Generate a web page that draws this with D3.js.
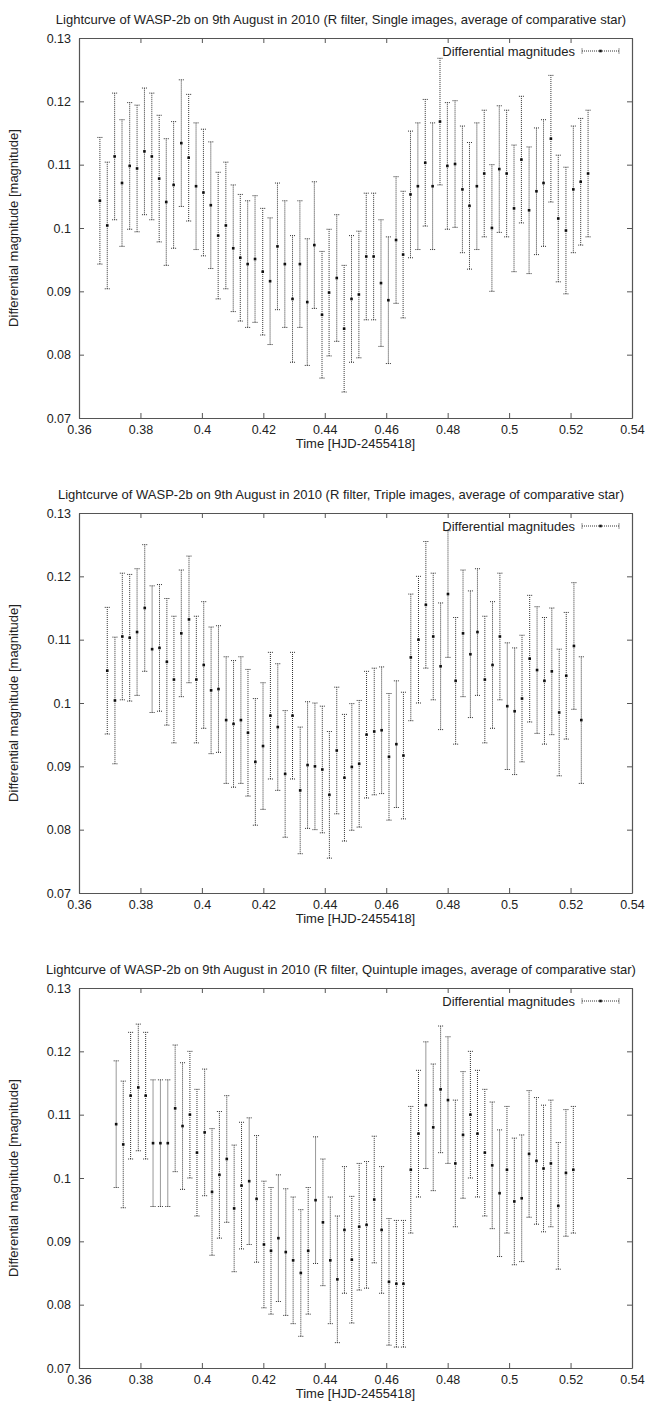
<!DOCTYPE html>
<html>
<head>
<meta charset="utf-8">
<script src="https://cdn.jsdelivr.net/npm/d3@7"></script>
<style>
  body { margin: 0; background: #fff; }
  svg { display: block; font-family: "Liberation Sans", Arial, sans-serif; }
</style>
</head>
<body>
<div class="lightcurves"></div>
<script>
const timeSingle = [0.3668,0.3692,0.3716,0.3740,0.3765,0.3789,0.3813,0.3837,0.3861,0.3884,0.3908,0.3933,0.3957,0.3981,0.4005,0.4029,0.4053,0.4078,0.4102,0.4125,0.4149,0.4173,0.4198,0.4222,0.4246,0.4270,0.4295,0.4319,0.4343,0.4366,0.4391,0.4414,0.4439,0.4463,0.4487,0.4511,0.4535,0.4559,0.4583,0.4607,0.4632,0.4655,0.4679,0.4703,0.4727,0.4751,0.4775,0.4799,0.4824,0.4848,0.4871,0.4895,0.4919,0.4944,0.4968,0.4992,0.5016,0.5040,0.5065,0.5089,0.5112,0.5136,0.5160,0.5185,0.5209,0.5233,0.5257];
const magSingle = [0.1043,0.1004,0.1113,0.1071,0.1098,0.1094,0.1121,0.1113,0.1078,0.1041,0.1068,0.1134,0.1111,0.1066,0.1056,0.1036,0.0988,0.1004,0.0968,0.0953,0.0943,0.0951,0.0931,0.0916,0.0971,0.0943,0.0888,0.0943,0.0883,0.0973,0.0863,0.0898,0.0921,0.0841,0.0888,0.0895,0.0955,0.0955,0.0913,0.0886,0.0981,0.0958,0.1053,0.1066,0.1103,0.1066,0.1168,0.1098,0.1101,0.1061,0.1035,0.1066,0.1086,0.1000,0.1093,0.1086,0.1031,0.1108,0.1028,0.1058,0.1071,0.1141,0.1015,0.0996,0.1061,0.1073,0.1086];

const timeTriple = [0.3692,0.3717,0.3741,0.3765,0.3789,0.3814,0.3838,0.3862,0.3886,0.3909,0.3933,0.3958,0.3982,0.4006,0.4030,0.4054,0.4079,0.4103,0.4127,0.4150,0.4174,0.4199,0.4223,0.4247,0.4271,0.4295,0.4320,0.4344,0.4368,0.4392,0.4415,0.4439,0.4464,0.4488,0.4512,0.4536,0.4561,0.4585,0.4609,0.4633,0.4656,0.4680,0.4705,0.4729,0.4753,0.4777,0.4801,0.4826,0.4850,0.4874,0.4897,0.4921,0.4946,0.4970,0.4994,0.5018,0.5042,0.5067,0.5091,0.5115,0.5139,0.5163,0.5186,0.5211,0.5235];
const magTriple = [0.1051,0.1004,0.1105,0.1103,0.1112,0.1150,0.1085,0.1087,0.1065,0.1037,0.1110,0.1132,0.1037,0.1060,0.1020,0.1022,0.0973,0.0967,0.0973,0.0953,0.0907,0.0932,0.0980,0.0962,0.0888,0.0980,0.0862,0.0902,0.0900,0.0895,0.0855,0.0925,0.0882,0.0899,0.0904,0.0950,0.0955,0.0957,0.0915,0.0935,0.0917,0.1072,0.1100,0.1155,0.1105,0.1058,0.1172,0.1035,0.1110,0.1077,0.1112,0.1037,0.1060,0.1105,0.0995,0.0987,0.1007,0.1070,0.1052,0.1035,0.1050,0.0985,0.1043,0.1090,0.0973];

const timeQuint = [0.3721,0.3744,0.3768,0.3793,0.3817,0.3841,0.3865,0.3889,0.3913,0.3937,0.3961,0.3984,0.4009,0.4033,0.4057,0.4081,0.4105,0.4129,0.4154,0.4178,0.4202,0.4225,0.4249,0.4273,0.4297,0.4322,0.4346,0.4370,0.4394,0.4418,0.4441,0.4464,0.4488,0.4512,0.4536,0.4561,0.4585,0.4609,0.4633,0.4656,0.4680,0.4705,0.4729,0.4753,0.4777,0.4801,0.4825,0.4850,0.4874,0.4897,0.4921,0.4945,0.4969,0.4993,0.5017,0.5041,0.5065,0.5089,0.5112,0.5136,0.5160,0.5185,0.5209];
const magQuint = [0.1085,0.1053,0.1130,0.1143,0.1130,0.1055,0.1055,0.1055,0.1110,0.1082,0.1100,0.1040,0.1072,0.0978,0.1005,0.1030,0.0952,0.0988,0.0995,0.0967,0.0895,0.0885,0.0905,0.0883,0.0870,0.0850,0.0885,0.0965,0.0930,0.0870,0.0840,0.0918,0.0871,0.0923,0.0926,0.0966,0.0918,0.0836,0.0833,0.0833,0.1013,0.1070,0.1115,0.1080,0.1140,0.1123,0.1023,0.1068,0.1100,0.1070,0.1040,0.1020,0.0976,0.1013,0.0963,0.0968,0.1038,0.1027,0.1015,0.1023,0.0956,0.1008,0.1013];

// every point carries the same error bar
const magError = 0.01;

const panelLabels = ["Single", "Triple", "Quintuple"];
const xTickValues = [0.36, 0.38, 0.40, 0.42, 0.44, 0.46, 0.48, 0.50, 0.52, 0.54];
const yTickValues = [0.07, 0.08, 0.09, 0.10, 0.11, 0.12, 0.13];

const panels = [
    { label: panelLabels[0], t: timeSingle, m: magSingle },
    { label: panelLabels[1], t: timeTriple, m: magTriple },
    { label: panelLabels[2], t: timeQuint, m: magQuint }
];

const W = 645, H = 1403;
const plotLeft = 79, plotRight = 632, plotH = 380;
const panelTops = [38, 513, 988];
const frameColor = "#555";
const fmt = d => String(+d.toFixed(2));

const svg = d3.select(".lightcurves").append("svg")
    .attr("width", W)
    .attr("height", H);

const x = d3.scaleLinear().domain([0.36, 0.54]).range([plotLeft, plotRight]);

panels.forEach((p, i) => {
    const top = panelTops[i];
    const y = d3.scaleLinear().domain([0.07, 0.13]).range([top + plotH, top]);
    const g = svg.append("g");

    // title above plot
    g.append("text")
        .attr("x", 341)
        .attr("y", top - 14)
        .attr("text-anchor", "middle")
        .attr("font-size", 13)
        .attr("fill", "#222")
        .text(`Lightcurve of WASP-2b on 9th August in 2010 (R filter, ${p.label} images, average of comparative star)`);

    // axes with inward ticks, mirrored on top and right (gnuplot look)
    const bottom = g.append("g")
        .attr("transform", `translate(0,${top + plotH})`)
        .call(d3.axisBottom(x).tickValues(xTickValues).tickFormat(fmt).tickSizeInner(-5).tickSizeOuter(0).tickPadding(7));
    const left = g.append("g")
        .attr("transform", `translate(${plotLeft},0)`)
        .call(d3.axisLeft(y).tickValues(yTickValues).tickFormat(fmt).tickSizeInner(-5).tickSizeOuter(0).tickPadding(8));
    const topAx = g.append("g")
        .attr("transform", `translate(0,${top})`)
        .call(d3.axisTop(x).tickValues(xTickValues).tickFormat("").tickSizeInner(-5).tickSizeOuter(0));
    const right = g.append("g")
        .attr("transform", `translate(${plotRight},0)`)
        .call(d3.axisRight(y).tickValues(yTickValues).tickFormat("").tickSizeInner(-5).tickSizeOuter(0));

    [bottom, left, topAx, right].forEach(a => {
        a.select(".domain").attr("stroke", frameColor).attr("stroke-width", 1.2);
        a.selectAll(".tick line").attr("stroke", frameColor);
        a.selectAll(".tick text")
            .attr("font-family", "Liberation Sans, Arial, sans-serif")
            .attr("font-size", 12.5)
            .attr("fill", "#222");
    });

    // axis titles
    g.append("text")
        .attr("x", (plotLeft + plotRight) / 2)
        .attr("y", top + plotH + 30)
        .attr("text-anchor", "middle")
        .attr("font-size", 13)
        .attr("fill", "#222")
        .text("Time [HJD-2455418]");
    g.append("text")
        .attr("transform", `translate(18,${top + plotH / 2}) rotate(-90)`)
        .attr("text-anchor", "middle")
        .attr("font-size", 13)
        .attr("fill", "#222")
        .text("Differential magnitude [magnitude]");

    const data = p.t.map((t, k) => ({ t, m: p.m[k] }));

    // dotted error bars with caps
    const bars = g.append("g")
        .attr("stroke", "#333")
        .attr("stroke-width", 1)
        .attr("stroke-dasharray", "1,1");
    bars.selectAll("line.bar")
        .data(data)
        .enter().append("line")
        .attr("class", "bar")
        .attr("x1", d => x(d.t)).attr("x2", d => x(d.t))
        .attr("y1", d => y(d.m - magError))
        .attr("y2", d => y(d.m + magError));
    bars.selectAll("line.capTop")
        .data(data)
        .enter().append("line")
        .attr("class", "capTop")
        .attr("x1", d => x(d.t) - 2.5).attr("x2", d => x(d.t) + 2.5)
        .attr("y1", d => y(d.m + magError)).attr("y2", d => y(d.m + magError));
    bars.selectAll("line.capBot")
        .data(data)
        .enter().append("line")
        .attr("class", "capBot")
        .attr("x1", d => x(d.t) - 2.5).attr("x2", d => x(d.t) + 2.5)
        .attr("y1", d => y(d.m - magError)).attr("y2", d => y(d.m - magError));

    // the points themselves
    g.append("g").selectAll("rect")
        .data(data)
        .enter().append("rect")
        .attr("x", d => x(d.t) - 1.3)
        .attr("y", d => y(d.m) - 1.3)
        .attr("width", 2.6)
        .attr("height", 2.6)
        .attr("fill", "#111");

    // key
    const ky = top + 13;
    g.append("text")
        .attr("x", 575)
        .attr("y", ky)
        .attr("dy", "0.35em")
        .attr("text-anchor", "end")
        .attr("font-size", 13)
        .attr("fill", "#222")
        .text("Differential magnitudes");
    const key = g.append("g")
        .attr("stroke", "#333")
        .attr("stroke-dasharray", "1,1");
    key.append("line").attr("x1", 582).attr("x2", 619).attr("y1", ky).attr("y2", ky);
    key.append("line").attr("x1", 582).attr("x2", 582).attr("y1", ky - 2.5).attr("y2", ky + 2.5);
    key.append("line").attr("x1", 619).attr("x2", 619).attr("y1", ky - 2.5).attr("y2", ky + 2.5);
    g.append("rect")
        .attr("x", 599.2).attr("y", ky - 1.3)
        .attr("width", 2.6).attr("height", 2.6)
        .attr("fill", "#111");
});
</script>
</body>
</html>
